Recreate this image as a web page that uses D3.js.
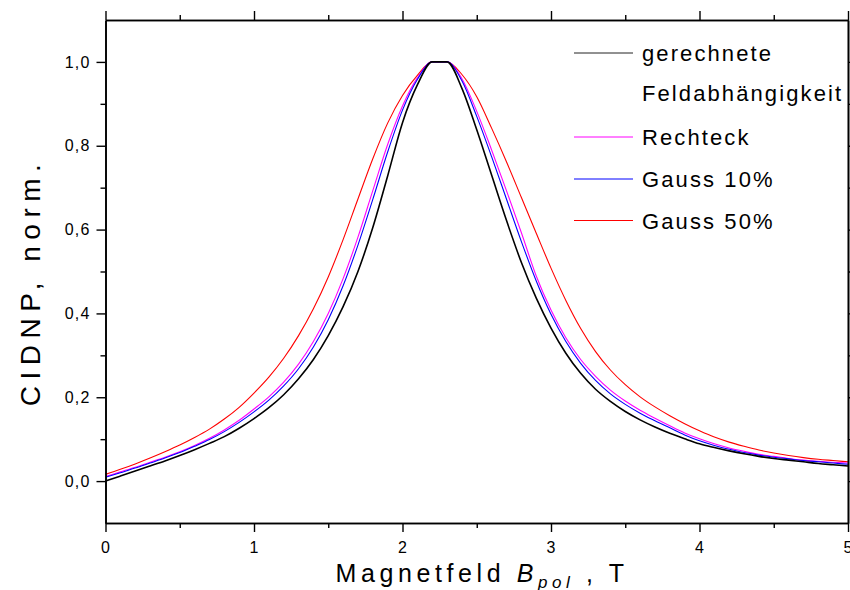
<!DOCTYPE html>
<html>
<head>
<meta charset="utf-8">
<script src="https://cdn.jsdelivr.net/npm/d3@7"></script>
<style>
  html, body { margin: 0; padding: 0; background: #fff; }
  svg { display: block; font-family: Arial, "Liberation Sans", sans-serif; }
</style>
</head>
<body>
<svg id="chart" width="850" height="590"></svg>
<script>
// magnetic field grid, T
let field = [0.0, 0.1, 0.2, 0.3, 0.4, 0.5, 0.6, 0.7, 0.8, 0.9,
	1.0, 1.1, 1.2, 1.3, 1.4, 1.5, 1.6, 1.7, 1.8, 1.9,
	2.0, 2.1, 2.2, 2.3, 2.4, 2.5, 2.6, 2.7, 2.8, 2.9,
	3.0, 3.1, 3.2, 3.3, 3.4, 3.5, 3.6, 3.7, 3.8, 3.9,
	4.0, 4.1, 4.2, 4.3, 4.4, 4.5, 4.6, 4.7, 4.8, 4.9, 5.0];

// computed field dependence (black)
let calc = [0.000, 0.012, 0.024, 0.036, 0.048, 0.061, 0.075, 0.090, 0.106, 0.126,
	0.149, 0.175, 0.206, 0.244, 0.290, 0.347, 0.416, 0.500, 0.605, 0.728,
	0.855, 0.945, 1.000, 1.000, 0.937, 0.838, 0.730, 0.622, 0.522, 0.437,
	0.365, 0.305, 0.257, 0.219, 0.190, 0.166, 0.146, 0.129, 0.114, 0.101,
	0.089, 0.080, 0.072, 0.065, 0.059, 0.054, 0.050, 0.046, 0.042, 0.039, 0.036];

// Rechteck (magenta)
let rect = [0.011, 0.022, 0.033, 0.045, 0.057, 0.070, 0.085, 0.102, 0.122, 0.145,
	0.172, 0.201, 0.236, 0.279, 0.333, 0.400, 0.483, 0.582, 0.693, 0.803,
	0.895, 0.962, 1.000, 1.000, 0.960, 0.882, 0.790, 0.693, 0.593, 0.490,
	0.408, 0.342, 0.290, 0.250, 0.217, 0.191, 0.169, 0.150, 0.132, 0.115,
	0.101, 0.089, 0.079, 0.071, 0.064, 0.059, 0.054, 0.050, 0.047, 0.045, 0.043];

// Gauss 10% (blue)
let gauss10 = [0.009, 0.020, 0.031, 0.043, 0.055, 0.068, 0.083, 0.099, 0.118, 0.140,
	0.165, 0.193, 0.227, 0.268, 0.320, 0.385, 0.466, 0.563, 0.672, 0.785,
	0.885, 0.958, 1.000, 1.000, 0.955, 0.870, 0.774, 0.673, 0.572, 0.478,
	0.398, 0.333, 0.281, 0.240, 0.208, 0.183, 0.162, 0.144, 0.127, 0.110,
	0.096, 0.085, 0.076, 0.068, 0.062, 0.057, 0.053, 0.049, 0.046, 0.043, 0.040];

// Gauss 50% (red)
let gauss50 = [0.016, 0.028, 0.041, 0.055, 0.070, 0.086, 0.104, 0.124, 0.148, 0.176,
	0.210, 0.248, 0.293, 0.347, 0.411, 0.487, 0.576, 0.673, 0.769, 0.854,
	0.920, 0.968, 1.000, 1.000, 0.970, 0.917, 0.842, 0.762, 0.677, 0.592,
	0.508, 0.431, 0.364, 0.309, 0.265, 0.230, 0.201, 0.177, 0.156, 0.137,
	0.120, 0.105, 0.093, 0.083, 0.074, 0.067, 0.061, 0.056, 0.052, 0.049, 0.046];

let xTicks = [0, 1, 2, 3, 4, 5];
let yTicks = [0.0, 0.2, 0.4, 0.6, 0.8, 1.0];
let legendNames = ['gerechnete', 'Rechteck', 'Gauss 10%', 'Gauss 50%'];

let svg = d3.select('#chart');
let W = 850, H = 590;
let plot = { left: 105.5, right: 848, top: 20, bottom: 523 };

let x = d3.scaleLinear().domain([0, 5]).range([plot.left, plot.right]);
let y = d3.scaleLinear().domain([-0.1, 1.1]).range([plot.bottom, plot.top]);

svg.append('rect').attr('width', W).attr('height', H).attr('fill', '#fff');

// series, drawn from back to front
let series = [
	{ name: 'Gauss 50%', vals: gauss50, color: '#ff0000', w: 1.1 },
	{ name: 'Rechteck', vals: rect, color: '#ff00ff', w: 1.1 },
	{ name: 'Gauss 10%', vals: gauss10, color: '#0000ff', w: 1.1 },
	{ name: 'gerechnete', vals: calc, color: '#000000', w: 1.6 }
];

let line = d3.line()
	.x(d => x(d[0]))
	.y(d => y(d[1]))
	.curve(d3.curveMonotoneX);

svg.append('g').selectAll('path')
	.data(series)
	.join('path')
	.attr('fill', 'none')
	.attr('stroke', d => d.color)
	.attr('stroke-width', d => d.w)
	.attr('stroke-linejoin', 'round')
	.attr('d', d => line(field.map((b, i) => [b, d.vals[i]])));

// axes
let fmt = v => d3.format('.1f')(v).replace('.', ',');
let xMinor = [0.5, 1.5, 2.5, 3.5, 4.5];
let yMinor = [0.1, 0.3, 0.5, 0.7, 0.9];

function styleAxis(g) {
	g.selectAll('path.domain').attr('stroke', '#000').attr('stroke-width', 1.6);
	g.selectAll('.tick line').attr('stroke', '#000').attr('stroke-width', 1.4);
	g.selectAll('.tick text')
		.attr('fill', '#000')
		.style('font-size', '16px')
		.style('letter-spacing', '1.2px')
		.style('font-family', 'Arial, "Liberation Sans", sans-serif');
}

// bottom
svg.append('g').attr('transform', `translate(0,${plot.bottom})`)
	.call(d3.axisBottom(x).tickValues(xTicks).tickFormat(d3.format('d')).tickSize(9).tickSizeOuter(0).tickPadding(10))
	.call(styleAxis);
svg.append('g').attr('transform', `translate(0,${plot.bottom})`)
	.call(d3.axisBottom(x).tickValues(xMinor).tickFormat('').tickSize(5).tickSizeOuter(0))
	.call(styleAxis);
// top
svg.append('g').attr('transform', `translate(0,${plot.top})`)
	.call(d3.axisTop(x).tickValues(xTicks).tickFormat('').tickSize(9).tickSizeOuter(0))
	.call(styleAxis);
svg.append('g').attr('transform', `translate(0,${plot.top})`)
	.call(d3.axisTop(x).tickValues(xMinor).tickFormat('').tickSize(5).tickSizeOuter(0))
	.call(styleAxis);
// left
svg.append('g').attr('transform', `translate(${plot.left},0)`)
	.call(d3.axisLeft(y).tickValues(yTicks).tickFormat(fmt).tickSize(9).tickSizeOuter(0).tickPadding(6))
	.call(styleAxis);
svg.append('g').attr('transform', `translate(${plot.left},0)`)
	.call(d3.axisLeft(y).tickValues(yMinor).tickFormat('').tickSize(5).tickSizeOuter(0))
	.call(styleAxis);
// right
svg.append('g').attr('transform', `translate(${plot.right},0)`)
	.call(d3.axisRight(y).tickValues(yTicks).tickFormat('').tickSize(9).tickSizeOuter(0))
	.call(styleAxis);
svg.append('g').attr('transform', `translate(${plot.right},0)`)
	.call(d3.axisRight(y).tickValues(yMinor).tickFormat('').tickSize(5).tickSizeOuter(0))
	.call(styleAxis);

// axis titles
let xTitle = svg.append('text')
	.attr('x', 482).attr('y', 582)
	.attr('text-anchor', 'middle')
	.style('font-size', '25px')
	.style('letter-spacing', '4.6px')
	.attr('fill', '#000');
xTitle.append('tspan').text('Magnetfeld ');
xTitle.append('tspan').style('font-style', 'italic').text('B');
xTitle.append('tspan').style('font-style', 'italic').style('font-size', '17px')
	.attr('dy', 6).text('pol');
xTitle.append('tspan').attr('dy', -6).text(' , T');

svg.append('text')
	.attr('transform', 'translate(40,282) rotate(-90)')
	.attr('text-anchor', 'middle')
	.style('font-size', '28px')
	.style('letter-spacing', '6.5px')
	.attr('fill', '#000')
	.text('CIDNP, norm.');

// legend
let legendRows = [
	{ name: legendNames[0], color: '#222', y: 53 },
	{ name: legendNames[1], color: '#ff00ff', y: 137 },
	{ name: legendNames[2], color: '#0000ff', y: 179 },
	{ name: legendNames[3], color: '#ff0000', y: 220.5 }
];
let leg = svg.append('g');
leg.selectAll('line')
	.data(legendRows)
	.join('line')
	.attr('x1', 574).attr('x2', 633)
	.attr('y1', d => d.y).attr('y2', d => d.y)
	.attr('stroke', d => d.color)
	.attr('stroke-width', 1);
leg.selectAll('text.lab')
	.data(legendRows)
	.join('text')
	.attr('class', 'lab')
	.attr('x', 642)
	.attr('y', d => d.y + 8)
	.style('font-size', '22px')
	.style('letter-spacing', '2.1px')
	.attr('fill', '#000')
	.text(d => d.name);
leg.append('text')
	.attr('x', 642).attr('y', 101)
	.style('font-size', '22px')
	.style('letter-spacing', '2.1px')
	.attr('fill', '#000')
	.text('Feldabhängigkeit');
</script>
</body>
</html>
